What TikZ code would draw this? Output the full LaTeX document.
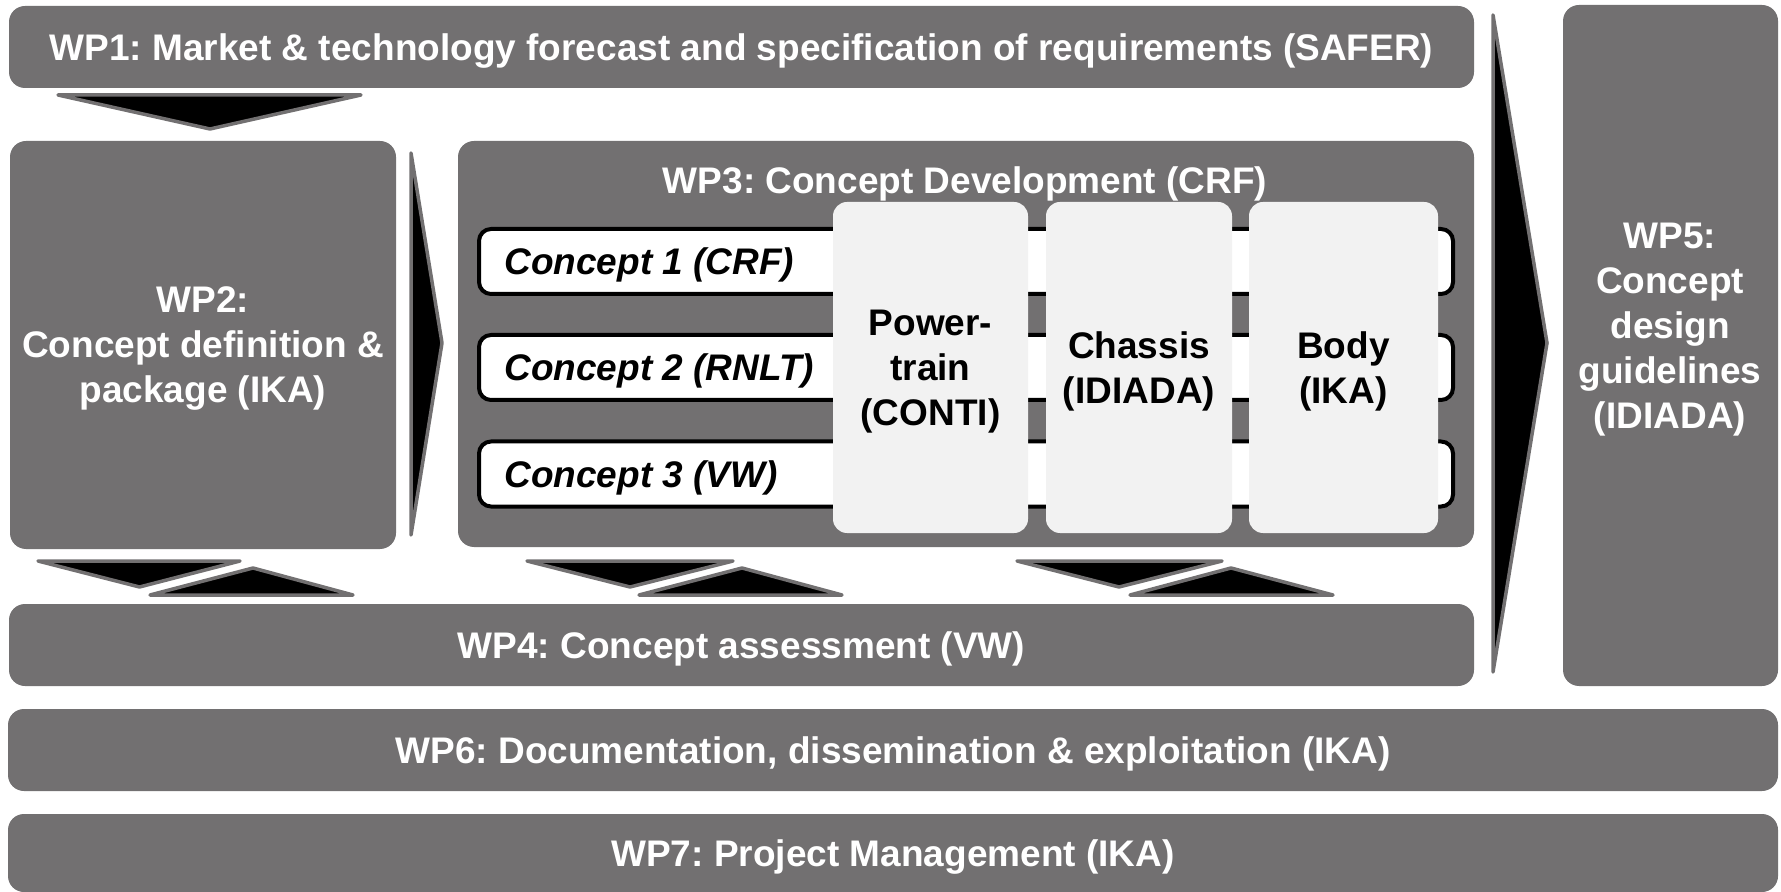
\documentclass[tikz,border=0pt]{standalone}
\usepackage{fontspec}
\setmainfont{Liberation Sans}
\frenchspacing
\definecolor{boxgray}{RGB}{114,112,113}
\definecolor{compgray}{RGB}{242,242,242}
\begin{document}
\begin{tikzpicture}[x=0.5pt,y=-0.5pt,
  bigfont/.style={font=\bfseries\fontsize{18.5pt}{22.5pt}\selectfont},
  wp/.style={fill=boxgray, rounded corners=8pt, inner sep=0pt, text=white, bigfont, align=center, text depth=0pt},
  wptext/.style={text=white, bigfont, align=center, inner sep=0pt},
  concept/.style={draw=black, line width=2pt, fill=white, rounded corners=6pt, inner sep=0pt, minimum width=487pt, minimum height=32.5pt},
  ctext/.style={anchor=west, font=\bfseries\itshape\fontsize{18.5pt}{22.5pt}\selectfont, inner sep=0pt, text=black, text depth=0pt},
  comp/.style={fill=compgray, rounded corners=7pt, inner sep=0pt, minimum height=165.5pt, text=black, bigfont, align=center, text depth=0pt},
  arr/.style={fill=black, draw=boxgray, line width=1.75pt, line join=round}
]
\useasboundingbox (0,0) rectangle (1781,892);

% work package boxes
\node[wp, minimum width=732.5pt, minimum height=41pt] (wp1) at (741.5,47) {WP1: Market \& technology forecast and specification of requirements (SAFER)};
\node[wp, minimum width=193pt, minimum height=204pt] (wp2) at (203,345) {WP2:\\Concept definition \&\\package (IKA)};
\node[wp, minimum width=508pt, minimum height=203pt] (wp3) at (966,344) {};
\node[wptext, text depth=0pt] (wp3t) at (965,180) {WP3: Concept Development (CRF)};
\node[wp, minimum width=732.5pt, minimum height=41pt] (wp4) at (741.5,645) {WP4: Concept assessment (VW)};
\node[wp, minimum width=107.5pt, minimum height=340.5pt] (wp5) at (1670.5,345.5) {};
\node[wptext] (wp5t) at (1670,330) {WP5:\\Concept\\design\\guidelines\\(IDIADA)};
\node[wp, minimum width=885pt, minimum height=41pt] (wp6) at (893,750) {WP6: Documentation, dissemination \& exploitation (IKA)};
\node[wp, minimum width=885pt, minimum height=39pt] (wp7) at (893,853) {WP7: Project Management (IKA)};

% concept rows
\node[concept] (c1) at (966,261.5) {};
\node[concept] (c2) at (966,367.5) {};
\node[concept] (c3) at (966,474) {};
\node[ctext] (c1t) at (504,261.5) {Concept 1 (CRF)};
\node[ctext] (c2t) at (504,367.5) {Concept 2 (RNLT)};
\node[ctext] (c3t) at (504,474) {Concept 3 (VW)};

% component columns
\node[comp, minimum width=97.5pt] (pt) at (930.5,367.5) {Power-\\train\\(CONTI)};
\node[comp, minimum width=93pt] (ch) at (1139,367.5) {Chassis\\(IDIADA)};
\node[comp, minimum width=94.5pt] (bd) at (1343.5,367.5) {Body\\(IKA)};

% flow arrows
\draw[arr] (58,95) -- (361,95) -- (210,129) -- cycle;
\draw[arr] (411,153) -- (442,343) -- (411,535) -- cycle;
\draw[arr] (1493,15) -- (1547,343) -- (1493,672) -- cycle;

\draw[arr] (38,561) -- (240,561) -- (139.5,587) -- cycle;
\draw[arr] (150,595) -- (353,595) -- (253,568) -- cycle;
\draw[arr] (527,561) -- (733,561) -- (630,587) -- cycle;
\draw[arr] (639,595) -- (842,595) -- (742,568) -- cycle;
\draw[arr] (1017,561) -- (1222,561) -- (1119,587) -- cycle;
\draw[arr] (1130,595) -- (1333,595) -- (1231,568) -- cycle;
\end{tikzpicture}
\end{document}
